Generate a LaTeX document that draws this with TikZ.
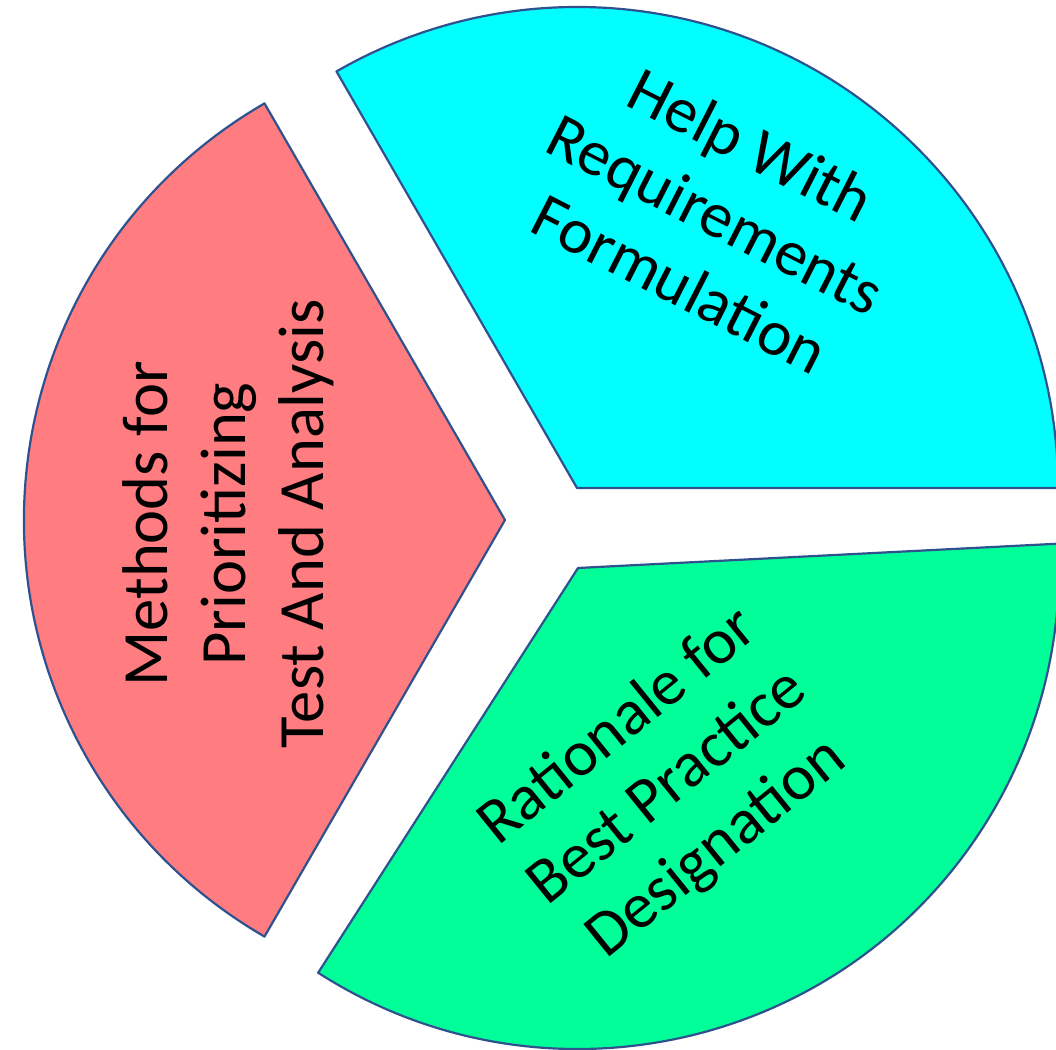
\documentclass[tikz,border=0pt]{standalone}
\usepackage{fontspec}
\setmainfont{Carlito}
\definecolor{segred}{HTML}{FF7C80}
\definecolor{segcyan}{HTML}{00FFFF}
\definecolor{seggreen}{HTML}{00FF99}
\definecolor{segedge}{HTML}{2F528F}
\begin{document}
\begin{tikzpicture}[x=0.5pt,y=0.5pt,
  segment/.style={draw=segedge, line width=1.1pt, line join=round},
  seglabel/.style={font=\fontsize{32.3}{39}\selectfont, align=center, inner sep=0pt, text=black}]
\useasboundingbox (0,0) rectangle (1056,1050);
% apexes of the three sectors
\coordinate (redapex) at (505,530);
\coordinate (cyanapex) at (577,562);
\coordinate (greenapex) at (578,482);
% sectors
\draw[segment, fill=segred] (redapex) -- ++(120:240.5pt)
  arc[start angle=120, end angle=240, radius=240.5pt] -- cycle;
\draw[segment, fill=segcyan] (cyanapex) -- ++(0:240.5pt)
  arc[start angle=0, end angle=120, radius=240.5pt] -- cycle;
\draw[segment, fill=seggreen] (greenapex) -- ++(-122.7:240.5pt)
  arc[start angle=-122.7, end angle=2.9, radius=240.5pt] -- cycle;
% labels
\node[seglabel, rotate=90] (redtext) at (228,526)
  {Methods for\\Prioritizing\\Test And Analysis};
\node[seglabel, rotate=-27] (cyantext) at (716,836)
  {Help With\\Requirements\\Formulation};
\node[seglabel, rotate=39] (greentext) at (668,262)
  {Rationale for\\Best Practice\\Designation};
\end{tikzpicture}
\end{document}
